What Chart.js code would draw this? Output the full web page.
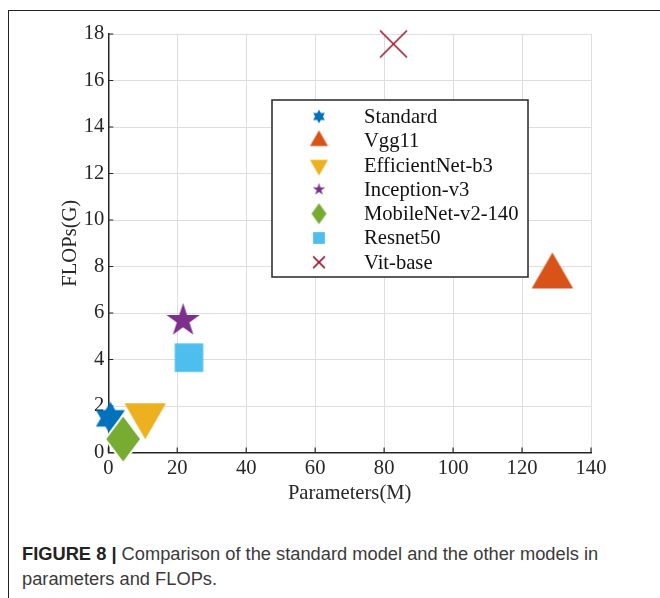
<!DOCTYPE html>
<html>
<head>
<meta charset="utf-8">
<script src="https://cdn.jsdelivr.net/npm/chart.js@4/dist/chart.umd.min.js"></script>
<style>
  html, body { margin: 0; padding: 0; background: #fff; }
  #wrap { position: relative; width: 660px; height: 598px; overflow: hidden; background: #fff; }
  #frame { position: absolute; left: 8px; top: 10px; width: 700px; height: 700px;
           border-left: 1.5px solid #222; border-top: 1.5px solid #222; }
  #c { position: absolute; left: 0; top: 0; }
  #cap { position: absolute; left: 22px; top: 541px; width: 636px;
         font-family: "Liberation Sans", Arial, sans-serif; font-size: 18.3px; line-height: 25px; color: #3a3a3a; }
  #cap b { color: #222; }
</style>
</head>
<body>
<div id="wrap">
  <div id="frame"></div>
  <canvas id="c" width="660" height="520"></canvas>
  <div id="cap"><b>FIGURE 8 |</b> Comparison of the standard model and the other models in parameters and FLOPs.</div>
</div>
<script>
// ---- data ----
const models = ["Standard", "Vgg11", "EfficientNet-b3", "Inception-v3", "MobileNet-v2-140", "Resnet50", "Vit-base"];
const params = [0.6, 128.8, 10.7, 21.7, 4.3, 23.4, 82.7];
const flops  = [1.47, 7.57, 1.6, 5.68, 0.58, 4.08, 17.57];
const xTicks = [0, 20, 40, 60, 80, 100, 120, 140];
const yTicks = [0, 2, 4, 6, 8, 10, 12, 14, 16, 18];

// ---- styles ----
const colors = ["#0072BD", "#D95319", "#EDB120", "#7E2F8E", "#77AC30", "#4DBEEE", "#A2142F"];
const shapes = ["hexagram", "triUp", "triDown", "pentagram", "diamond", "square", "cross"];
const bigSize = [16.7, 24, 24, 17.5, [18, 24], 28.5, 27];
const smallSize = [6.8, 10.4, 10.4, 6.5, [7.5, 10.5], 11.7, 11.7];

function makeMarker(shape, color, s, outline) {
  const c = document.createElement('canvas');
  let w, h;
  if (shape === 'diamond') { w = 2 * s[0] + 4; h = 2 * s[1] + 4; }
  else if (shape === 'square' || shape === 'cross') { w = h = Math.ceil(s) + 4; }
  else { w = h = Math.ceil(2 * s) + 4; }
  c.width = w; c.height = h;
  const g = c.getContext('2d');
  const cx = w / 2, cy = h / 2;
  g.fillStyle = color; g.strokeStyle = color;
  g.beginPath();
  if (shape === 'hexagram') {
    for (let t = 0; t < 2; t++) {
      for (let k = 0; k < 3; k++) {
        const a = (t === 0 ? -90 : 90) * Math.PI / 180 + k * 2 * Math.PI / 3;
        const px = cx + s * Math.cos(a), py = cy + s * Math.sin(a);
        if (k === 0) g.moveTo(px, py); else g.lineTo(px, py);
      }
      g.closePath();
    }
    g.fill('nonzero');
  } else if (shape === 'triUp' || shape === 'triDown') {
    const sign = shape === 'triUp' ? 1 : -1;
    for (let k = 0; k < 3; k++) {
      const a = -Math.PI / 2 * sign + k * 2 * Math.PI / 3;
      const px = cx + s * Math.cos(a), py = cy + s * Math.sin(a);
      if (k === 0) g.moveTo(px, py); else g.lineTo(px, py);
    }
    g.closePath(); g.fill();
  } else if (shape === 'pentagram') {
    const r = s * 0.382;
    for (let k = 0; k < 10; k++) {
      const a = -Math.PI / 2 + k * Math.PI / 5;
      const rr = k % 2 === 0 ? s : r;
      const px = cx + rr * Math.cos(a), py = cy + rr * Math.sin(a);
      if (k === 0) g.moveTo(px, py); else g.lineTo(px, py);
    }
    g.closePath(); g.fill();
  } else if (shape === 'diamond') {
    g.moveTo(cx, cy - s[1]); g.lineTo(cx + s[0], cy); g.lineTo(cx, cy + s[1]); g.lineTo(cx - s[0], cy);
    g.closePath(); g.fill();
    if (outline) { g.strokeStyle = '#fff'; g.lineWidth = 2; g.stroke(); }
  } else if (shape === 'square') {
    g.fillRect(cx - s / 2, cy - s / 2, s, s);
  } else if (shape === 'cross') {
    g.lineWidth = 1.6;
    g.moveTo(cx - s / 2, cy - s / 2); g.lineTo(cx + s / 2, cy + s / 2);
    g.moveTo(cx + s / 2, cy - s / 2); g.lineTo(cx - s / 2, cy + s / 2);
    g.stroke();
  }
  return c;
}

const bigMarkers = models.map((m, i) => makeMarker(shapes[i], colors[i], bigSize[i], true));
const smallMarkers = models.map((m, i) => makeMarker(shapes[i], colors[i], smallSize[i], false));

const datasets = models.map((m, i) => ({
  label: m,
  data: [{ x: params[i], y: flops[i] }],
  pointStyle: bigMarkers[i],
  pointRadius: 10,
  pointHoverRadius: 10,
  order: -i,
  clip: false
}));

const serif = '"Liberation Serif", "Times New Roman", serif';
const axisColor = '#262626';
const fs = 20.6;

const innerTicks = {
  id: 'innerTicks',
  beforeDatasetsDraw(chart) {
    const { ctx, chartArea: a, scales } = chart;
    ctx.save();
    ctx.strokeStyle = axisColor; ctx.lineWidth = 1.2;
    ctx.beginPath();
    xTicks.forEach(v => { const px = scales.x.getPixelForValue(v); ctx.moveTo(px, a.bottom); ctx.lineTo(px, a.bottom - 5); });
    yTicks.forEach(v => { const py = scales.y.getPixelForValue(v); ctx.moveTo(a.left, py); ctx.lineTo(a.left + 5, py); });
    ctx.stroke();
    ctx.restore();
  }
};

const boxLegend = {
  id: 'boxLegend',
  afterDraw(chart) {
    const ctx = chart.ctx;
    const bx = 272, by = 100, bw = 256, bh = 177;
    ctx.save();
    ctx.fillStyle = '#fff';
    ctx.fillRect(bx, by, bw, bh);
    ctx.strokeStyle = axisColor; ctx.lineWidth = 1.5;
    ctx.strokeRect(bx, by, bw, bh);
    ctx.font = fs + 'px ' + serif;
    ctx.fillStyle = '#111';
    ctx.textBaseline = 'middle';
    ctx.textAlign = 'left';
    models.forEach((m, i) => {
      const y = 116.5 + i * 24.3;
      const mk = smallMarkers[i];
      ctx.drawImage(mk, 319 - mk.width / 2, y - mk.height / 2);
      ctx.fillText(m, 364, y + 1);
    });
    ctx.restore();
  }
};

new Chart(document.getElementById('c'), {
  type: 'scatter',
  data: { datasets },
  options: {
    responsive: false,
    animation: false,
    events: [],
    layout: { padding: { left: 0, top: 34, right: 69, bottom: 0 } },
    plugins: { legend: { display: false }, tooltip: { enabled: false } },
    scales: {
      x: {
        type: 'linear', min: 0, max: 140,
        afterBuildTicks: s => { s.ticks = xTicks.map(v => ({ value: v })); },
        afterFit: s => { s.height = 67.5; },
        ticks: { font: { family: serif, size: fs }, color: axisColor, padding: 4, maxRotation: 0 },
        grid: { color: '#dedede', lineWidth: 1, drawTicks: false },
        border: { color: axisColor, width: 1.5 },
        title: { display: true, text: 'Parameters(M)', font: { family: serif, size: fs }, color: axisColor, padding: { top: 0, bottom: 14 } }
      },
      y: {
        type: 'linear', min: 0, max: 18,
        afterBuildTicks: s => { s.ticks = yTicks.map(v => ({ value: v })); },
        afterFit: s => { s.width = 108.3; },
        ticks: { font: { family: serif, size: fs }, color: axisColor, padding: 4 },
        grid: { color: '#dedede', lineWidth: 1, drawTicks: false },
        border: { color: axisColor, width: 1.5 },
        title: { display: true, text: 'FLOPs(G)', font: { family: serif, size: fs }, color: axisColor, padding: { top: 58, bottom: 0 } }
      }
    }
  },
  plugins: [innerTicks, boxLegend]
});
</script>
</body>
</html>
